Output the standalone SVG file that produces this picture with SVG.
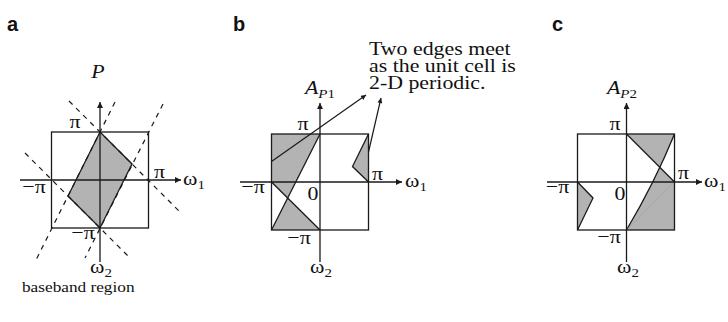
<svg xmlns="http://www.w3.org/2000/svg" width="728" height="322" viewBox="0 0 728 322">
<defs>
<style>
.t{font-family:"Liberation Serif","Times New Roman",serif;font-size:19px;fill:#111}
.i{font-style:italic}
.s{font-size:13px}
.lab{font-family:"Liberation Sans",Arial,sans-serif;font-weight:bold;font-size:20px;fill:#111}
.ln{fill:none;stroke:#1a1a1a;stroke-width:1.3}
.ax{fill:none;stroke:#1a1a1a;stroke-width:1.3;marker-end:url(#ah)}
.sh{fill:#b3b3b3;stroke:none}
.dash{fill:none;stroke:#1a1a1a;stroke-width:1.2;stroke-dasharray:5,5}
.sq{fill:none;stroke:#1a1a1a;stroke-width:1.3}
</style>
<marker id="ah" viewBox="0 0 10 10" refX="10" refY="5" markerWidth="8" markerHeight="6" markerUnits="userSpaceOnUse" orient="auto">
<path d="M0,0 L10,5 L0,10 z" fill="#1a1a1a"/>
</marker>
<marker id="ah2" viewBox="0 0 10 10" refX="10" refY="5" markerWidth="8" markerHeight="5" markerUnits="userSpaceOnUse" orient="auto">
<path d="M0,0 L10,5 L0,10 z" fill="#1a1a1a"/>
</marker>
</defs>
<rect width="728" height="322" fill="#fff"/>

<g id="panel-a">
<text class="lab" x="7" y="31">a</text>
<path class="sh" d="M100,132 L132,164 L100,228 L68,196 Z"/>
<path class="ln" d="M100,132 L132,164 L100,228 L68,196 Z"/>
<rect class="sq" x="51.5" y="132" width="97" height="96"/>
<line class="dash" x1="69" y1="101" x2="182" y2="214"/>
<line class="dash" x1="25" y1="153" x2="130" y2="258"/>
<line class="dash" x1="115" y1="102" x2="35" y2="262"/>
<line class="dash" x1="163" y1="104" x2="85" y2="258"/>
<line class="ax" x1="100" y1="262" x2="100" y2="102"/>
<line class="ax" x1="20" y1="180" x2="181" y2="180"/>
<text class="t i" text-anchor="middle" transform="translate(98,78) scale(1.15,1)">P</text>
<text class="t" text-anchor="middle" transform="translate(75,128) scale(1.15,1)">π</text>
<text class="t" text-anchor="middle" transform="translate(159.5,178) scale(1.15,1)">π</text>
<text class="t" text-anchor="middle" transform="translate(34,193) scale(1.15,1)">−π</text>
<text class="t" text-anchor="middle" transform="translate(83,239) scale(1.15,1)">−π</text>
<text class="t" transform="translate(183,185) scale(1.15,1)">ω<tspan class="s" dy="4">1</tspan></text>
<text class="t" transform="translate(90,273) scale(1.15,1)">ω<tspan class="s" dy="4">2</tspan></text>
<text class="t" transform="translate(22,292) scale(1.15,1)" style="font-size:15px">baseband region</text>
</g>

<g id="panel-b">
<text class="lab" x="233" y="31">b</text>
<path class="sh" fill-rule="evenodd" d="M271.5,134 L320,134 L271.5,230 Z M271.5,182 L320,230 L271.5,230 Z"/>
<path class="sh" d="M368.5,134 L352.5,166.5 L368.5,182 Z"/>
<rect class="sq" x="271.5" y="134" width="97" height="96"/>
<line class="ln" x1="320" y1="134" x2="271.5" y2="230"/>
<line class="ln" x1="271.5" y1="182" x2="320" y2="230"/>
<path class="ln" d="M368.5,134 L352.5,166.5 L368.5,182"/>
<line class="ax" x1="320" y1="262" x2="320" y2="103"/>
<line class="ax" x1="240" y1="182" x2="402" y2="182"/>
<text class="t i" transform="translate(305,94) scale(1.15,1)">A<tspan class="s" dy="4">P</tspan><tspan class="s" style="font-style:normal">1</tspan></text>
<text class="t" text-anchor="middle" transform="translate(303,130) scale(1.15,1)">π</text>
<text class="t" text-anchor="middle" transform="translate(377.5,180) scale(1.15,1)">π</text>
<text class="t" text-anchor="middle" transform="translate(253,193) scale(1.15,1)">−π</text>
<text class="t" text-anchor="middle" transform="translate(313,200) scale(1.15,1)">0</text>
<text class="t" text-anchor="middle" transform="translate(299,244) scale(1.15,1)">−π</text>
<text class="t" transform="translate(405,187) scale(1.15,1)">ω<tspan class="s" dy="4">1</tspan></text>
<text class="t" transform="translate(310,273) scale(1.15,1)">ω<tspan class="s" dy="4">2</tspan></text>
</g>

<g id="note">
<text class="t" transform="translate(369,55) scale(1.15,1)">Two edges meet</text>
<text class="t" transform="translate(369,72) scale(1.15,1)">as the unit cell is</text>
<text class="t" transform="translate(369,89) scale(1.15,1)">2-D periodic.</text>
</g>

<g id="panel-c">
<text class="lab" x="552" y="31">c</text>
<path class="sh" fill-rule="evenodd" d="M626.5,134 L674.5,134 L674.5,182 Z M674.5,134 Q655,182 626.5,230 L674.5,230 Z"/>
<path class="sh" d="M577.5,182 L593,198 L577.5,230 Z"/>
<rect class="sq" x="577.5" y="134" width="97" height="96"/>
<line class="ln" x1="626.5" y1="134" x2="674.5" y2="182"/>
<path class="ln" d="M674.5,134 Q655,182 626.5,230"/>
<path class="ln" d="M577.5,182 L593,198 L577.5,230"/>
<line x1="674.5" y1="182" x2="626.5" y2="230" stroke="#999" stroke-width="0.5"/>
<line class="ax" x1="626.5" y1="262" x2="626.5" y2="103"/>
<line class="ax" x1="547" y1="182" x2="702" y2="182"/>
<text class="t i" transform="translate(607,94) scale(1.15,1)">A<tspan class="s" dy="4">P</tspan><tspan class="s" style="font-style:normal">2</tspan></text>
<text class="t" text-anchor="middle" transform="translate(615,130) scale(1.15,1)">π</text>
<text class="t" text-anchor="middle" transform="translate(683.5,179) scale(1.15,1)">π</text>
<text class="t" text-anchor="middle" transform="translate(557.5,193) scale(1.15,1)">−π</text>
<text class="t" text-anchor="middle" transform="translate(620,200) scale(1.15,1)">0</text>
<text class="t" text-anchor="middle" transform="translate(609,243) scale(1.15,1)">−π</text>
<text class="t" transform="translate(704,187) scale(1.15,1)">ω<tspan class="s" dy="4">1</tspan></text>
<text class="t" transform="translate(617,273) scale(1.15,1)">ω<tspan class="s" dy="4">2</tspan></text>
</g>

<g id="connectors">
<line x1="271.5" y1="161.5" x2="366" y2="95" stroke="#1a1a1a" stroke-width="1.2" marker-end="url(#ah2)"/>
<line x1="368.5" y1="152" x2="381" y2="98" stroke="#1a1a1a" stroke-width="1.2" marker-end="url(#ah2)"/>
</g>
</svg>
